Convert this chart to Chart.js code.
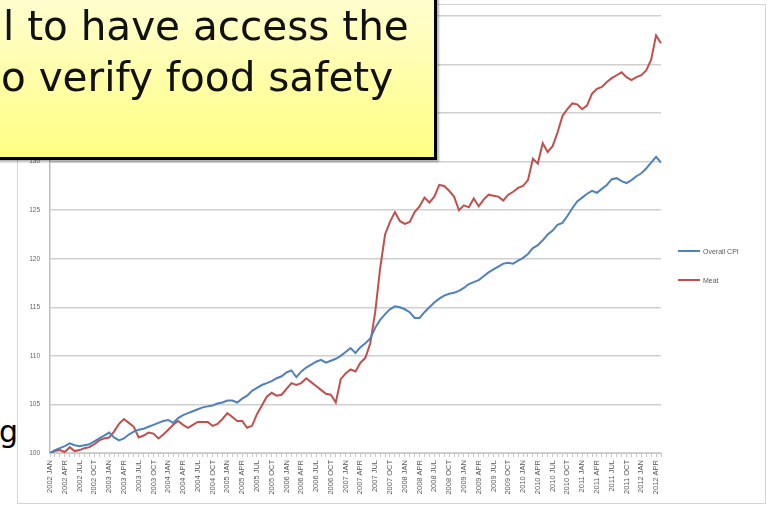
<!DOCTYPE html>
<html>
<head>
<meta charset="utf-8">
<script src="https://cdn.jsdelivr.net/npm/chart.js@4.4.0/dist/chart.umd.min.js"></script>
<style>
  html, body { margin: 0; padding: 0; background: #fff; overflow: hidden; }
  #stage { position: relative; width: 769px; height: 508px; overflow: hidden; background: #fff; }
  #slideText { position: absolute; left: -1px; top: 414px; font: 30px "DejaVu Sans", sans-serif; color: #000; line-height: 36px; }
  #frame { position: absolute; left: 17px; top: 4px; width: 747px; height: 498px; border: 1px solid #d4d4d4; background: #fff; }
  #cv { position: absolute; left: 0; top: 0; filter: blur(0.5px); }
  #legend { position: absolute; left: 678px; top: 244px; font: 7px "Liberation Sans", Arial, sans-serif; color: #595959; filter: blur(0.3px); }
  #legend .item { display: flex; align-items: center; height: 14px; margin-bottom: 15px; }
  #legend .swatch { width: 22px; height: 2px; margin-right: 3px; }
  .callout {
    position: absolute; left: -20px; top: -10px; width: 457px; height: 170px; box-sizing: border-box;
    border: 3px solid #000; background: linear-gradient(to bottom, #fffdd2, #ffff82);
    box-shadow: 2px 2px 2px rgba(0,0,0,0.3);
  }
  .callout div { position: absolute; white-space: nowrap; font: 40.5px "DejaVu Sans", sans-serif; color: #111; line-height: 51px; }
</style>
</head>
<body>
<div id="stage">
  <div id="slideText">ge</div>
  <div id="frame"></div>
  <canvas id="cv" width="769" height="508"></canvas>
  <div id="legend"></div>
  <div class="callout">
    <div style="left:20px;top:8px">l to have access the</div>
    <div style="left:18px;top:59px">o verify food safety</div>
  </div>
</div>
<script>
// monthly index, 2002 JAN = 100
const START_YEAR = 2002;
const MONTHS = ["JAN", "FEB", "MAR", "APR", "MAY", "JUN", "JUL", "AUG", "SEP", "OCT", "NOV", "DEC"];

const cpi = [
  100.0, 100.3, 100.5, 100.7, 101.0, 100.8, 100.7, 100.8, 100.9, 101.2, 101.5, 101.8,
  102.1, 101.6, 101.3, 101.5, 101.9, 102.2, 102.4, 102.5, 102.7, 102.9, 103.1, 103.3,
  103.4, 103.1, 103.6, 103.9, 104.1, 104.3, 104.5, 104.7, 104.8, 104.9, 105.1, 105.2,
  105.4, 105.4, 105.2, 105.6, 105.9, 106.4, 106.7, 107.0, 107.2, 107.4, 107.7, 107.9,
  108.3, 108.5, 107.8, 108.4, 108.8, 109.1, 109.4, 109.6, 109.3, 109.5, 109.7, 110.0,
  110.4, 110.8, 110.3, 110.9, 111.3, 111.8, 112.9, 113.7, 114.3, 114.8, 115.1, 115.0,
  114.8, 114.5, 113.9, 113.9, 114.5, 115.0, 115.5, 115.9, 116.2, 116.4, 116.5, 116.7,
  117.0, 117.4, 117.6, 117.8, 118.2, 118.6, 118.9, 119.2, 119.5, 119.6, 119.5, 119.8,
  120.1, 120.5, 121.1, 121.4, 121.9, 122.5, 122.9, 123.5, 123.7, 124.4, 125.2, 125.9,
  126.3, 126.7, 127.0, 126.8, 127.2, 127.6, 128.2, 128.3, 128.0, 127.8, 128.1, 128.5,
  128.8, 129.3, 129.9, 130.5, 129.9
];
const meat = [
  100.0, 100.2, 100.3, 100.1, 100.6, 100.2, 100.3, 100.5, 100.6, 100.9, 101.3, 101.5,
  101.6, 102.2, 103.0, 103.5, 103.1, 102.7, 101.6, 101.8, 102.1, 102.0, 101.5, 101.9,
  102.4, 102.9, 103.3, 102.9, 102.6, 102.9, 103.2, 103.2, 103.2, 102.8, 103.0, 103.5,
  104.1, 103.7, 103.3, 103.3, 102.6, 102.8, 104.0, 104.9, 105.8, 106.2, 105.9, 106.0,
  106.6, 107.2, 107.0, 107.2, 107.7, 107.3, 106.9, 106.5, 106.1, 106.0, 105.2, 107.6,
  108.2, 108.6, 108.4, 109.3, 109.8, 111.3, 114.5, 119.0, 122.5, 123.8, 124.8, 123.9,
  123.6, 123.8, 124.8, 125.4, 126.3, 125.8, 126.4, 127.6, 127.5, 127.0, 126.4, 125.0,
  125.5, 125.3, 126.2, 125.4, 126.1, 126.6, 126.5, 126.4, 126.0, 126.6, 126.9, 127.3,
  127.5, 128.1, 130.3, 129.8, 131.9, 131.0, 131.6, 133.0, 134.7, 135.4, 136.0, 135.9,
  135.4, 135.8, 137.0, 137.5, 137.7, 138.2, 138.6, 138.9, 139.2, 138.7, 138.4, 138.7,
  138.9, 139.4, 140.5, 143.0, 142.2
];

const labels = cpi.map((_, i) => (START_YEAR + Math.floor(i / 12)) + " " + MONTHS[i % 12]);

const axisFont = { family: "'Liberation Sans', Arial, sans-serif", size: 6.5 };

const chart = new Chart(document.getElementById("cv"), {
  type: "line",
  data: {
    labels,
    datasets: [
      { label: "Overall CPI", data: cpi, borderColor: "#4f82bd", borderWidth: 2 },
      { label: "Meat", data: meat, borderColor: "#c0504d", borderWidth: 2 },
    ],
  },
  options: {
    responsive: false,
    animation: false,
    layout: { padding: { top: 16, right: 108, bottom: 5, left: 0 } },
    elements: { point: { radius: 0 }, line: { tension: 0 } },
    plugins: { legend: { display: false }, tooltip: { enabled: false } },
    scales: {
      x: {
        ticks: {
          autoSkip: false, minRotation: 90, maxRotation: 90, padding: 3,
          color: "#595959", font: { ...axisFont, size: 7.5 },
          callback: (v, i) => (i % 3 === 0 ? labels[i] : ""),
        },
        grid: { drawOnChartArea: false, tickLength: 4, color: "#c8c8c8" },
        border: { color: "#c8c8c8" },
        afterFit: (s) => { s.height = 50; },
      },
      y: {
        min: 100, max: 145,
        ticks: { stepSize: 5, color: "#666", font: axisFont, padding: 10 },
        grid: { drawTicks: false, color: "#d0d0d0", lineWidth: 1.5 },
        border: { color: "#bdbdbd", width: 1.5 },
        afterFit: (s) => { s.width = 50; },
      },
    },
  },
});

// legend built from the datasets
const legend = document.getElementById("legend");
chart.data.datasets.forEach((ds) => {
  const item = document.createElement("div");
  item.className = "item";
  item.innerHTML = `<span class="swatch" style="background:${ds.borderColor}"></span>${ds.label}`;
  legend.appendChild(item);
});
</script>
</body>
</html>
